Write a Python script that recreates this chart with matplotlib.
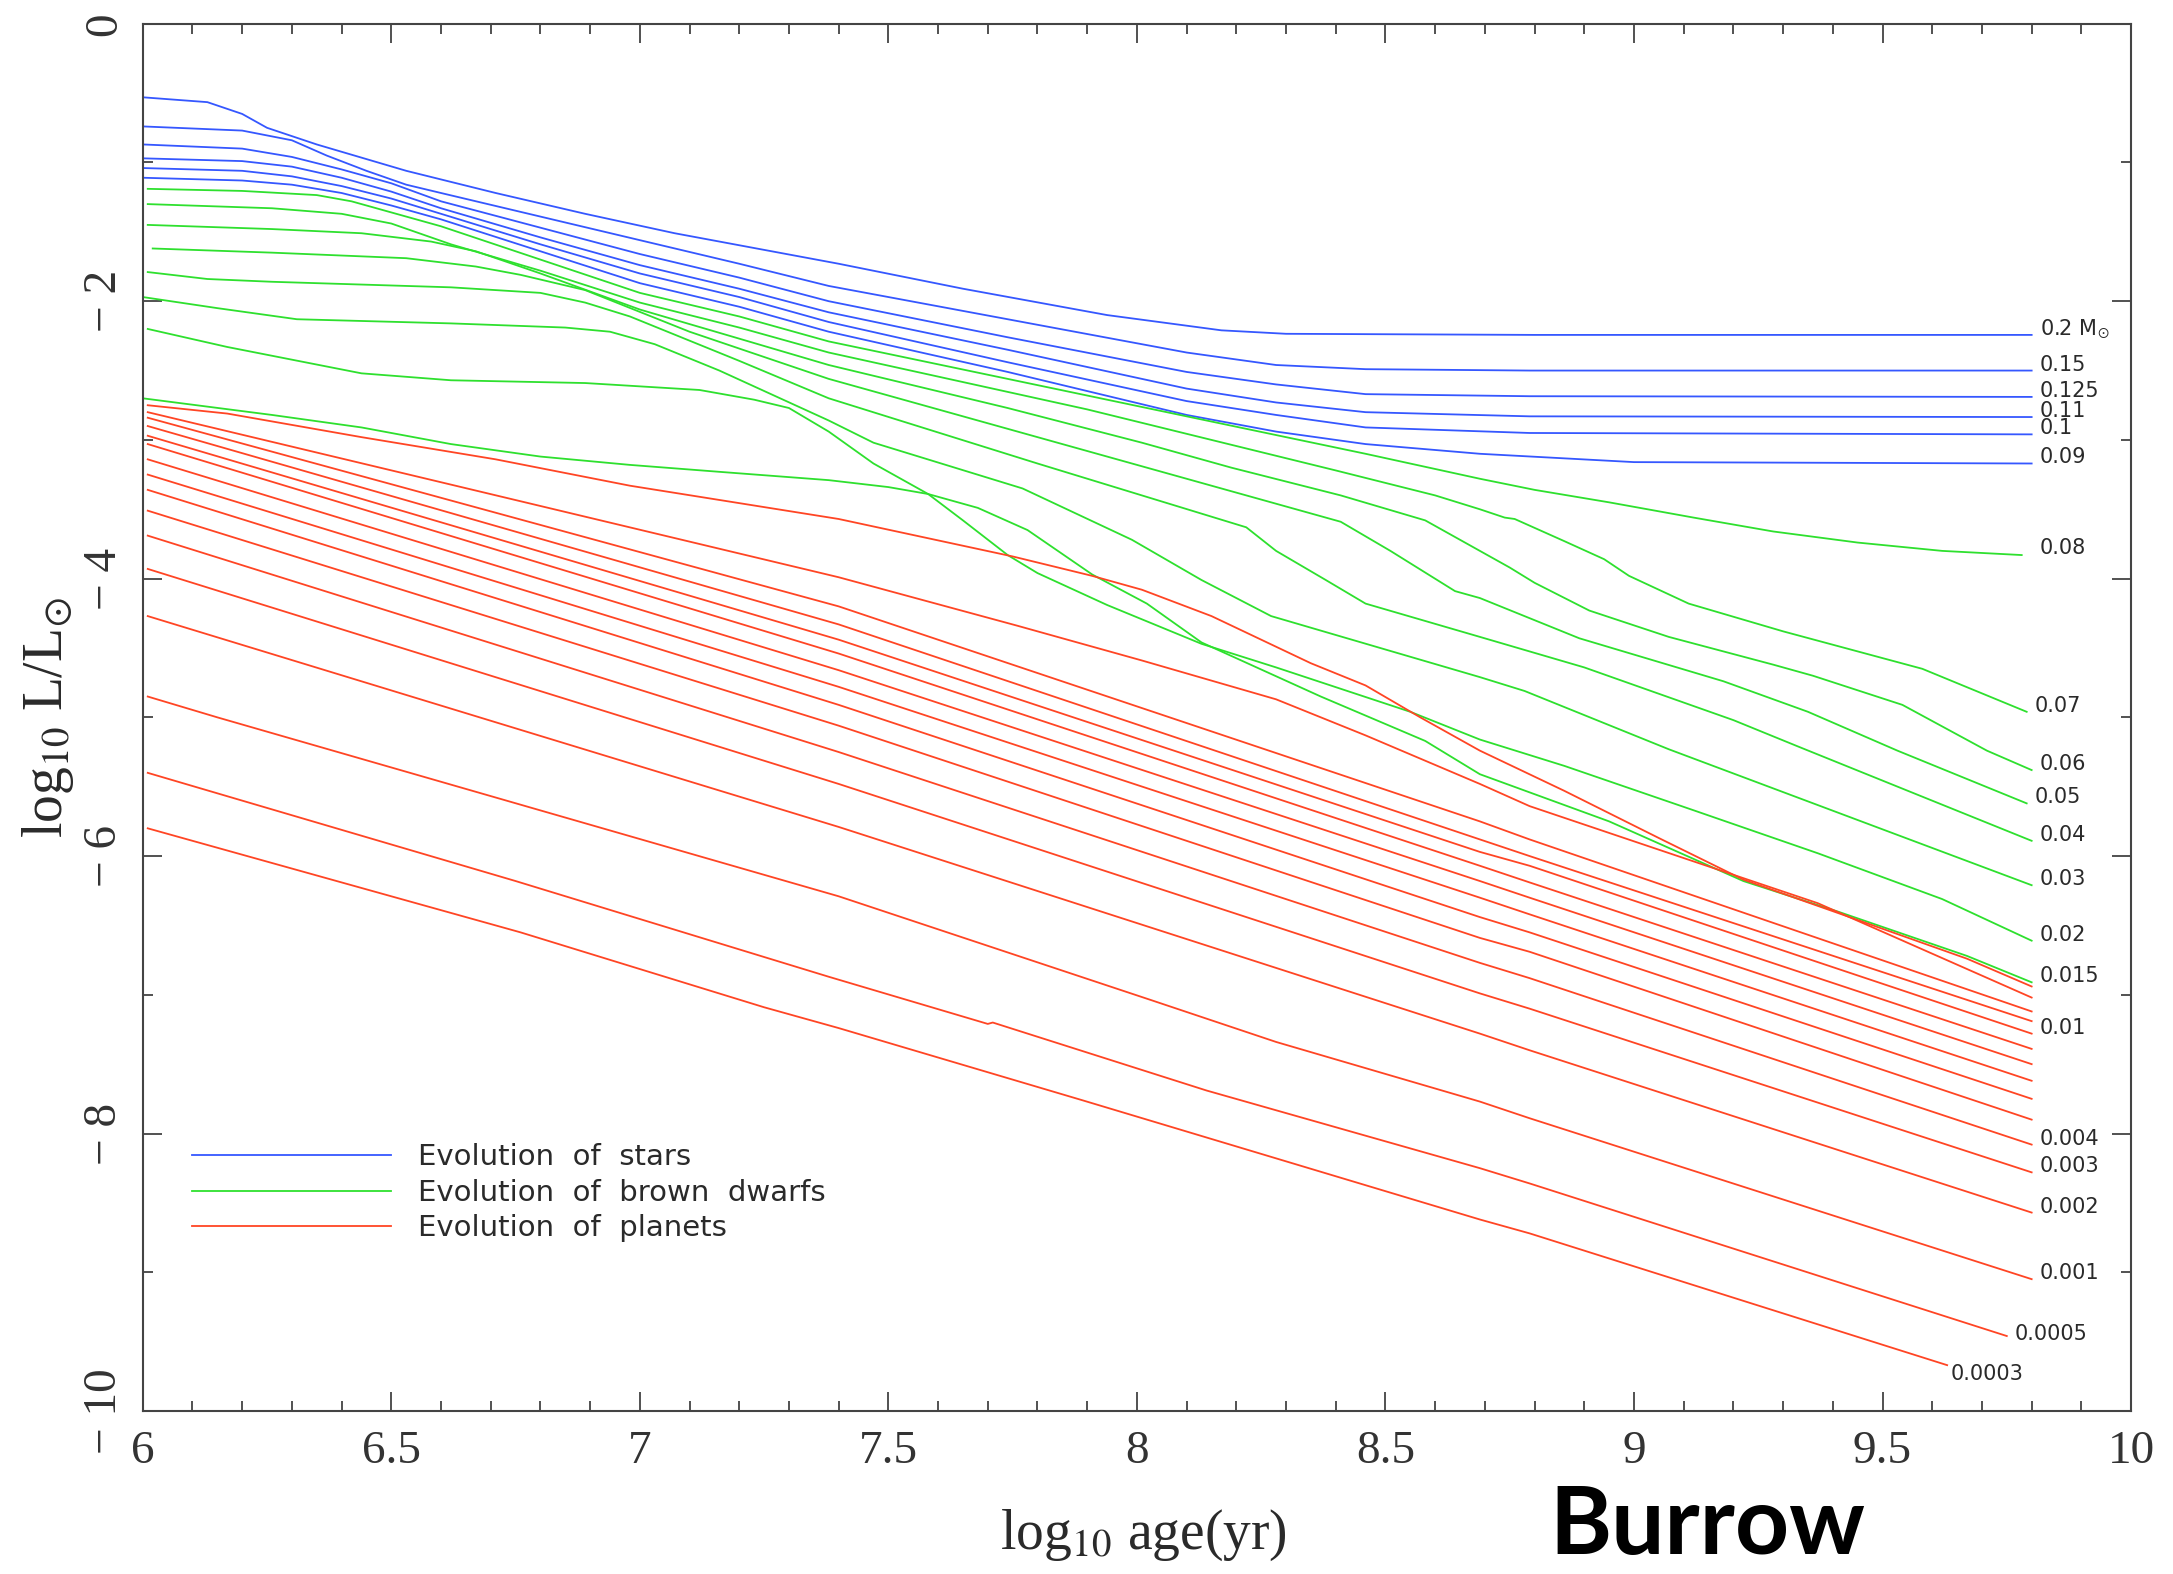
import matplotlib
matplotlib.use('Agg')
import matplotlib.pyplot as plt
from matplotlib.ticker import MultipleLocator, FixedLocator, FixedFormatter

plt.rcParams['mathtext.fontset'] = 'stix'

# ---- stars (blue) : log age, log L/Lsun ----
star_labels = ['0.2 M$_{\\odot}$', '0.15', '0.125', '0.11', '0.1', '0.09']
star_age = [
    [6.0, 6.13, 6.2, 6.25, 6.35, 6.53, 6.71, 6.89, 7.07, 7.25, 7.40, 7.65, 7.94, 8.17, 8.3, 8.8, 9.8],
    [6.0, 6.2, 6.3, 6.37, 6.45, 6.53, 6.6, 6.8, 7.0, 7.2, 7.38, 7.74, 8.10, 8.28, 8.46, 8.79, 9.8],
    [6.0, 6.2, 6.3, 6.4, 6.5, 6.6, 6.8, 7.0, 7.2, 7.38, 7.74, 8.10, 8.28, 8.46, 8.79, 9.8],
    [6.0, 6.2, 6.3, 6.4, 6.5, 6.6, 6.8, 7.0, 7.2, 7.38, 7.74, 8.10, 8.28, 8.46, 8.79, 9.8],
    [6.0, 6.2, 6.3, 6.4, 6.5, 6.6, 6.8, 7.0, 7.2, 7.38, 7.74, 8.10, 8.28, 8.46, 8.79, 9.8],
    [6.0, 6.2, 6.3, 6.4, 6.5, 6.6, 6.8, 7.0, 7.2, 7.38, 7.74, 8.10, 8.28, 8.46, 8.69, 9.0, 9.8],
]
star_lum = [
    [-0.53, -0.565, -0.65, -0.75, -0.87, -1.06, -1.22, -1.37, -1.51, -1.63, -1.73, -1.91, -2.10, -2.21, -2.235, -2.243, -2.243],
    [-0.74, -0.77, -0.84, -0.95, -1.06, -1.16, -1.22, -1.39, -1.56, -1.73, -1.89, -2.13, -2.37, -2.46, -2.49, -2.50, -2.50],
    [-0.87, -0.90, -0.96, -1.05, -1.15, -1.28, -1.47, -1.66, -1.83, -2.00, -2.26, -2.51, -2.60, -2.67, -2.685, -2.69],
    [-0.97, -0.99, -1.03, -1.11, -1.21, -1.33, -1.54, -1.74, -1.91, -2.08, -2.35, -2.63, -2.73, -2.80, -2.83, -2.835],
    [-1.04, -1.06, -1.10, -1.17, -1.26, -1.37, -1.59, -1.80, -1.97, -2.15, -2.44, -2.72, -2.82, -2.91, -2.95, -2.96],
    [-1.11, -1.13, -1.16, -1.22, -1.31, -1.41, -1.64, -1.87, -2.04, -2.22, -2.51, -2.82, -2.94, -3.03, -3.10, -3.16, -3.17],
]

# ---- brown dwarfs (green) ----
bd_labels = ['0.08', '0.07', '0.06', '0.05', '0.04', '0.03', '0.02', '0.015']
bd_age = [
    [6.01, 6.2, 6.35, 6.42, 6.5, 6.6, 6.8, 7.0, 7.2, 7.38, 7.74, 8.1, 8.46, 8.69, 8.80, 8.95, 9.12, 9.28, 9.45, 9.62, 9.78],
    [6.01, 6.26, 6.40, 6.5, 6.62, 6.8, 7.0, 7.2, 7.38, 7.9, 8.4, 8.6, 8.69, 8.74, 8.76, 8.86, 8.94, 8.99, 9.11, 9.30, 9.58, 9.79],
    [6.01, 6.26, 6.44, 6.58, 6.67, 6.8, 7.0, 7.2, 7.38, 7.74, 8.01, 8.19, 8.41, 8.58, 8.69, 8.75, 8.80, 8.91, 9.07, 9.28, 9.36, 9.54, 9.71, 9.80],
    [6.02, 6.26, 6.53, 6.67, 6.76, 6.89, 7.1, 7.38, 7.9, 8.41, 8.51, 8.64, 8.69, 8.89, 9.18, 9.35, 9.53, 9.79],
    [6.01, 6.13, 6.26, 6.62, 6.80, 6.89, 6.98, 7.2, 7.38, 7.8, 8.22, 8.28, 8.38, 8.46, 8.69, 8.90, 9.2, 9.33, 9.80],
    [6.00, 6.15, 6.31, 6.62, 6.85, 6.94, 7.03, 7.16, 7.38, 7.47, 7.77, 7.99, 8.13, 8.27, 8.69, 8.78, 9.07, 9.80],
    [6.01, 6.17, 6.44, 6.62, 6.89, 7.12, 7.23, 7.30, 7.38, 7.47, 7.58, 7.65, 7.74, 7.80, 7.94, 8.13, 8.28, 8.55, 8.69, 8.86, 9.12, 9.37, 9.62, 9.80],
    [6.00, 6.26, 6.44, 6.62, 6.80, 6.98, 7.16, 7.38, 7.50, 7.58, 7.68, 7.78, 7.91, 8.02, 8.13, 8.37, 8.58, 8.69, 8.95, 9.22, 9.41, 9.67, 9.80],
]
bd_lum = [
    [-1.19, -1.205, -1.235, -1.28, -1.36, -1.46, -1.70, -1.94, -2.11, -2.29, -2.56, -2.83, -3.10, -3.28, -3.36, -3.45, -3.56, -3.66, -3.74, -3.80, -3.83],
    [-1.30, -1.33, -1.37, -1.44, -1.59, -1.78, -2.01, -2.19, -2.37, -2.78, -3.22, -3.40, -3.50, -3.56, -3.57, -3.73, -3.86, -3.98, -4.18, -4.38, -4.65, -4.96],
    [-1.45, -1.48, -1.51, -1.57, -1.64, -1.80, -2.06, -2.27, -2.46, -2.77, -3.02, -3.20, -3.40, -3.58, -3.80, -3.92, -4.03, -4.23, -4.42, -4.62, -4.70, -4.91, -5.24, -5.38],
    [-1.62, -1.65, -1.69, -1.75, -1.81, -1.92, -2.22, -2.56, -3.08, -3.59, -3.80, -4.09, -4.14, -4.43, -4.74, -4.96, -5.24, -5.62],
    [-1.79, -1.84, -1.86, -1.90, -1.94, -2.01, -2.11, -2.43, -2.70, -3.17, -3.63, -3.80, -4.01, -4.18, -4.42, -4.64, -5.02, -5.21, -5.89],
    [-1.97, -2.05, -2.13, -2.16, -2.19, -2.22, -2.31, -2.50, -2.86, -3.02, -3.35, -3.72, -4.01, -4.27, -4.71, -4.81, -5.23, -6.21],
    [-2.20, -2.33, -2.52, -2.57, -2.59, -2.64, -2.71, -2.77, -2.94, -3.17, -3.39, -3.58, -3.83, -3.96, -4.19, -4.47, -4.64, -4.96, -5.16, -5.35, -5.67, -5.98, -6.31, -6.61],
    [-2.70, -2.82, -2.91, -3.03, -3.12, -3.18, -3.23, -3.29, -3.34, -3.39, -3.49, -3.65, -3.97, -4.18, -4.46, -4.85, -5.17, -5.41, -5.75, -6.18, -6.40, -6.72, -6.91],
]

# ---- planets (red) ----
pl_labels = ['', '', '', '', '0.01', '', '', '', '', '', '0.004', '0.003', '0.002', '0.001', '0.0005', '0.0003']
pl_grid = [6.01, 7.40, 8.69, 8.79, 9.80]
pl_age = [
    [6.01, 6.17, 6.44, 6.71, 6.98, 7.40, 7.75, 7.91, 8.01, 8.15, 8.35, 8.46, 8.57, 8.69, 8.86, 9.05, 9.22, 9.41, 9.67, 9.80],
    [6.01, 7.40, 7.76, 8.01, 8.28, 8.46, 8.69, 8.79, 9.03, 9.37, 9.80],
    pl_grid, pl_grid, pl_grid, pl_grid, pl_grid, pl_grid, pl_grid, pl_grid, pl_grid, pl_grid, pl_grid,
    [6.01, 6.15, 7.40, 8.03, 8.28, 8.69, 8.79, 9.80],
    [6.01, 6.75, 7.38, 7.54, 7.70, 7.71, 8.14, 8.69, 8.79, 9.75],
    [6.01, 6.76, 7.25, 7.40, 7.89, 8.69, 8.79, 9.63],
]
pl_lum = [
    [-2.75, -2.81, -2.98, -3.14, -3.33, -3.57, -3.84, -3.98, -4.08, -4.27, -4.61, -4.77, -5.00, -5.24, -5.53, -5.87, -6.17, -6.41, -6.74, -6.94],
    [-2.80, -3.99, -4.34, -4.59, -4.87, -5.13, -5.48, -5.64, -5.93, -6.34, -7.02],
    [-2.84, -4.20, -5.75, -5.88, -7.12],
    [-2.90, -4.33, -5.88, -6.00, -7.19],
    [-2.97, -4.44, -5.97, -6.07, -7.28],
    [-3.03, -4.54, -6.07, -6.19, -7.39],
    [-3.14, -4.66, -6.18, -6.30, -7.50],
    [-3.25, -4.78, -6.30, -6.42, -7.62],
    [-3.36, -4.91, -6.44, -6.55, -7.75],
    [-3.51, -5.06, -6.59, -6.69, -7.90],
    [-3.69, -5.25, -6.77, -6.88, -8.08],
    [-3.93, -5.48, -6.99, -7.10, -8.28],
    [-4.27, -5.79, -7.28, -7.40, -8.57],
    [-4.85, -5.00, -6.29, -7.04, -7.34, -7.77, -7.89, -9.05],
    [-5.40, -6.18, -6.87, -7.04, -7.21, -7.20, -7.69, -8.25, -8.36, -9.46],
    [-5.80, -6.55, -7.09, -7.24, -7.76, -8.62, -8.72, -9.67],
]

xtick_vals = [6, 6.5, 7, 7.5, 8, 8.5, 9, 9.5, 10]
xtick_text = ['6', '6.5', '7', '7.5', '8', '8.5', '9', '9.5', '10']
ytick_vals = [-10, -8, -6, -4, -2, 0]
ytick_text = ['\u2212 10', '\u2212 8', '\u2212 6', '\u2212 4', '\u2212 2', '0']

legend_text = ['Evolution  of  stars', 'Evolution  of  brown  dwarfs', 'Evolution  of  planets']

c_star = '#3557ff'
c_bd = '#2ee02e'
c_pl = '#ff4524'
txt_col = '#2a2a2a'

fig = plt.figure(figsize=(21.73, 15.74), dpi=100)
ax = fig.add_axes([0.0657, 0.1036, 0.915, 0.8813])

handles = []
for ages, lums, labs, col in [(star_age, star_lum, star_labels, c_star),
                              (bd_age, bd_lum, bd_labels, c_bd),
                              (pl_age, pl_lum, pl_labels, c_pl)]:
    for i in range(len(ages)):
        ln, = ax.plot(ages[i], lums[i], color=col, lw=1.3)
        if i == 0:
            handles.append(ln)
        if labs[i]:
            if labs[i] == '0.0003':
                off = (3, -9)
            elif labs[i] == '0.0005':
                off = (8, 2)
            elif labs[i] == '0.08':
                off = (18, 7)
            else:
                off = (8, 6)
            ax.annotate(labs[i], (ages[i][-1], lums[i][-1]), xytext=off,
                        textcoords='offset pixels', ha='left', va='center',
                        fontsize=15, color=txt_col)

ax.set_xlim(6, 10)
ax.set_ylim(-10, 0)

ax.xaxis.set_major_locator(FixedLocator(xtick_vals))
ax.xaxis.set_major_formatter(FixedFormatter(xtick_text))
ax.xaxis.set_minor_locator(MultipleLocator(0.1))
ax.yaxis.set_major_locator(FixedLocator(ytick_vals))
ax.yaxis.set_major_formatter(FixedFormatter(ytick_text))
ax.yaxis.set_minor_locator(MultipleLocator(1))

ax.tick_params(axis='both', which='both', direction='in', top=True, right=True,
               color='#333333', width=1.2)
ax.tick_params(axis='both', which='major', length=14)
ax.tick_params(axis='both', which='minor', length=7)
ax.tick_params(axis='x', which='major', pad=14, labelsize=34, labelcolor='#333333')
ax.tick_params(axis='y', which='major', pad=12, labelsize=34, labelcolor='#333333')
for t in ax.get_xticklabels() + ax.get_yticklabels():
    t.set_family('Liberation Serif')
for t in ax.get_yticklabels():
    t.set_rotation(90)
    t.set_va('center')

for s in ax.spines.values():
    s.set_color('#444444')
    s.set_linewidth(1.5)

ax.set_xlabel(r'log$_{10}$ age(yr)', fontsize=40, family='Liberation Serif',
              color=txt_col, va='center')
ax.xaxis.set_label_coords(0.503, -0.09)
ax.set_ylabel(r'log$_{10}$ L/L$_{\odot}$', fontsize=40, family='Liberation Serif',
              color=txt_col, va='center', ha='center')
ax.yaxis.set_label_coords(-0.0476, 0.5)

ax.legend(handles, legend_text, loc='upper left', bbox_to_anchor=(0.025, 0.193),
          frameon=False, fontsize=21, handlelength=6.8, handletextpad=0.94,
          labelspacing=0.26, borderpad=0, borderaxespad=0, labelcolor=txt_col)

fig.text(0.713, 0.057, 'Burrow', fontsize=68, fontweight='bold',
         family=['Lato', 'DejaVu Sans'], ha='left', va='top', color='black')

fig.savefig('out.png', dpi=100)
